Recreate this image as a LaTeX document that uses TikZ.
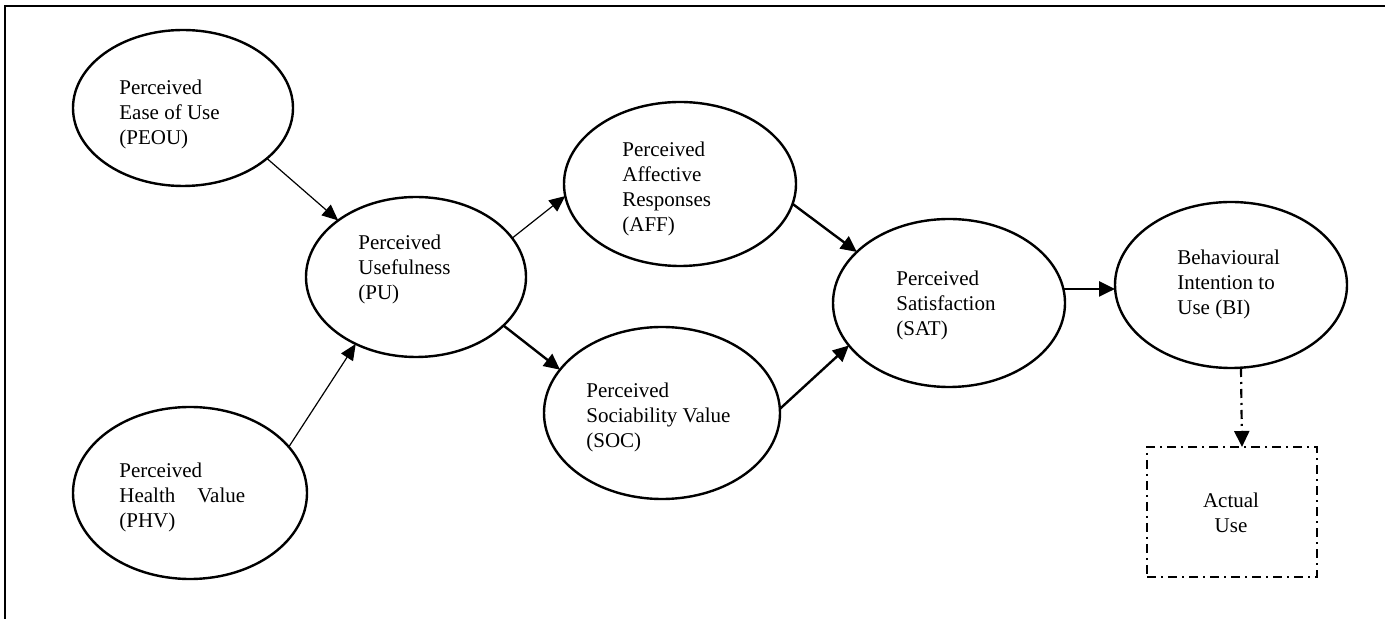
\documentclass[tikz,border=0pt]{standalone}
\usepackage{fontspec}
\setmainfont{Liberation Serif}
\usepackage{tikz}
\usetikzlibrary{shapes.geometric}
\usetikzlibrary{arrows.meta}
\tikzset{
	construct/.style={ellipse,draw,line width=1.2pt,inner sep=0pt,outer sep=0pt},
	lbl/.style={align=left,inner sep=0pt,anchor=north west,font=\fontsize{10.5}{12.5}\selectfont},
	thin arr/.style={line width=0.6pt,-{Triangle[length=8pt,width=7pt]}},
	thick arr/.style={line width=1.2pt,-{Triangle[length=8pt,width=7.5pt]}},
	dashdot/.style={line width=1.1pt,dash pattern=on 4.5pt off 2.5pt on 1pt off 2.5pt}
}

\begin{document}
\begin{tikzpicture}[x=0.5pt,y=-0.5pt]
			\useasboundingbox (0,0) rectangle (1392,619);
			\draw[line width=1pt] (5,619) -- (5,6) -- (1385,6);
			% constructs
			\node[construct,minimum width=110pt,minimum height=78pt] (peou) at (183,108) {};
			\node[construct,minimum width=110pt,minimum height=80pt] (pu) at (416,277) {};
			\node[construct,minimum width=117pt,minimum height=86pt] (phv) at (190,493) {};
			\node[construct,minimum width=116pt,minimum height=82pt] (aff) at (680,184) {};
			\node[construct,minimum width=118pt,minimum height=86pt] (soc) at (662,413) {};
			\node[construct,minimum width=116pt,minimum height=84pt] (sat) at (949,303) {};
			\node[construct,minimum width=116pt,minimum height=83pt] (bi) at (1231,285) {};
			\node[dashdot,draw,rectangle,minimum width=85pt,minimum height=65pt,inner sep=0pt,outer sep=0pt] (act) at (1232,512) {};
			% texts
			\node[lbl] (peou-t) at (119,80) {Perceived\\Ease of Use\\(PEOU)};
			\node[lbl] (pu-t) at (358,235) {Perceived\\Usefulness\\(PU)};
			\node[lbl] (phv-t) at (119,463) {Perceived\\Health\hspace{11pt}Value\\(PHV)};
			\node[lbl] (aff-t) at (622,142) {Perceived\\Affective\\Responses\\(AFF)};
			\node[lbl] (soc-t) at (586,383) {Perceived\\Sociability Value\\(SOC)};
			\node[lbl] (sat-t) at (896,271) {Perceived\\Satisfaction\\(SAT)};
			\node[lbl] (bi-t) at (1177,250) {Behavioural\\Intention to\\Use (BI)};
			\node[lbl,align=center,anchor=north] (act-t) at (1231,493) {Actual\\Use};
			% paths
			\draw[thin arr] (peou.-31) -- (pu.144);
			\draw[thin arr] (phv.25) -- (pu.228);
			\draw[thin arr] (pu.22) -- (aff.186);
			\draw[thick arr] (pu.-29) -- (soc.157.5);
			\draw[thick arr] (aff.-10.5) -- (sat.151);
			\draw[thick arr] (soc.2) -- (sat.203);
			\draw[thick arr] (sat.7) -- (sat.7 -| bi.west);
			\draw[thick arr,dashdot] ([xshift=5pt]bi.south) -- ([xshift=5pt]act.north);
		\end{tikzpicture}
\end{document}
